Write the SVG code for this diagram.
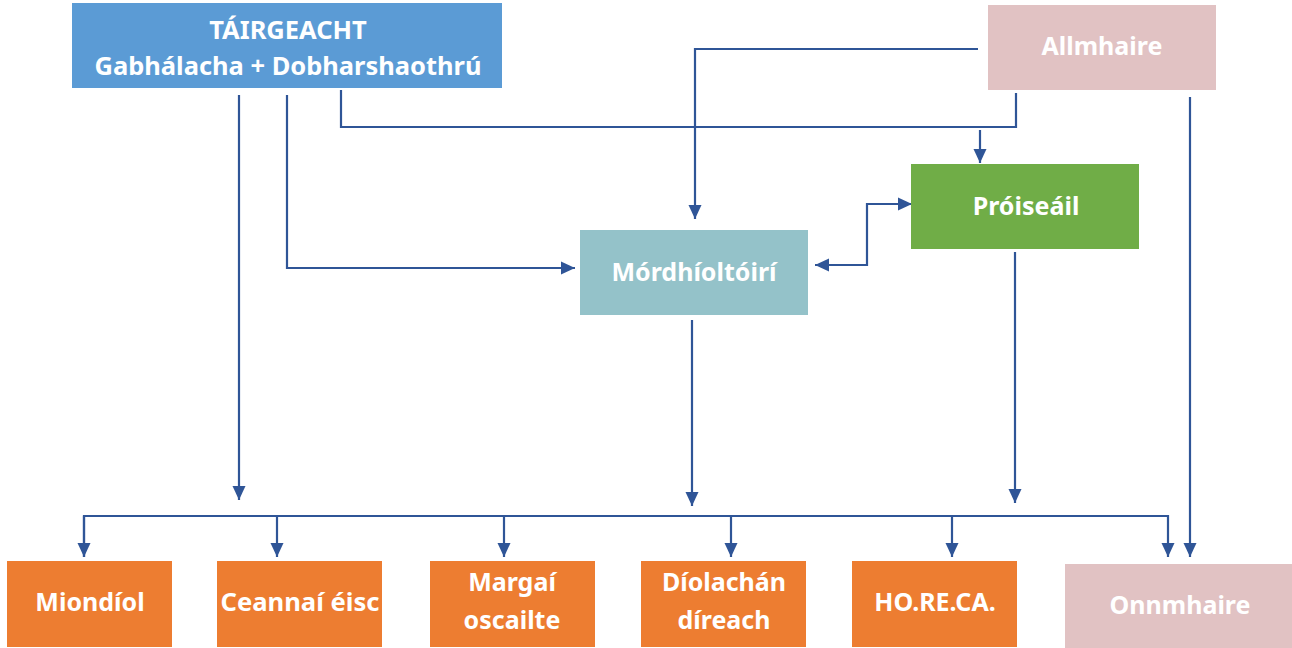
<svg xmlns="http://www.w3.org/2000/svg" width="1292" height="648" viewBox="0 0 1292 648">
<style>
.t{font-family:"Noto Sans","Open Sans","DejaVu Sans",sans-serif;font-weight:bold;fill:#fff;text-anchor:middle}
.c{fill:none;stroke:#2f5597;stroke-width:2.2}
.or{fill:#ed7d31}
.pk{fill:#e1c2c3}
</style>
<defs>
<marker id="a" markerUnits="userSpaceOnUse" markerWidth="16" markerHeight="16" viewBox="0 0 16 16" refX="14" refY="8" orient="auto-start-reverse">
<path d="M0,1.5 L14,8 L0,14.5 Z" fill="#2f5597"/>
</marker>
</defs>
<rect width="1292" height="648" fill="#fff"/>
<g id="connectors">
<path class="c" d="M239,95 V500" marker-end="url(#a)"/>
<path class="c" d="M287,95 V268 H575" marker-end="url(#a)"/>
<path class="c" d="M341,90 V127 H1016 V93"/>
<path class="c" d="M980,130 V163" marker-end="url(#a)"/>
<path class="c" d="M978,49 H695 V219" marker-end="url(#a)"/>
<path class="c" d="M815,265 H867 V204 H912" marker-start="url(#a)" marker-end="url(#a)"/>
<path class="c" d="M692,320 V506" marker-end="url(#a)"/>
<path class="c" d="M1015,252 V503" marker-end="url(#a)"/>
<path class="c" d="M1190,97 V557" marker-end="url(#a)"/>
<path class="c" d="M84,557 V516 H1168 V557" marker-end="url(#a)"/>
<path class="c" d="M84,516 V557" marker-end="url(#a)"/>
<path class="c" d="M277,516 V557" marker-end="url(#a)"/>
<path class="c" d="M504,516 V557" marker-end="url(#a)"/>
<path class="c" d="M731,516 V557" marker-end="url(#a)"/>
<path class="c" d="M952,516 V557" marker-end="url(#a)"/>
</g>
<g id="tairgeacht">
<rect x="72" y="3" width="430" height="85" fill="#5b9bd5"/>
<text class="t" x="288" y="39" font-size="25.5">TÁIRGEACHT</text>
<text class="t" x="288" y="75" font-size="25.5" textLength="387" lengthAdjust="spacingAndGlyphs">Gabhálacha + Dobharshaothrú</text>
</g>
<g id="allmhaire">
<rect class="pk" x="988" y="5" width="228" height="85"/>
<text class="t" x="1102" y="55" font-size="25">Allmhaire</text>
</g>
<g id="proiseail">
<rect x="911" y="164" width="228" height="85" fill="#70ad47"/>
<text class="t" x="1026" y="215" font-size="25">Próiseáil</text>
</g>
<g id="mordhioltoiri">
<rect x="580" y="230" width="228" height="85" fill="#94c2c9"/>
<text class="t" x="694" y="281" font-size="25">Mórdhíoltóirí</text>
</g>
<g id="miondiol">
<rect class="or" x="7" y="561" width="165" height="86"/>
<text class="t" x="90" y="611" font-size="25">Miondíol</text>
</g>
<g id="ceannai">
<rect class="or" x="217" y="561" width="165" height="86"/>
<text class="t" x="300" y="611" font-size="25" textLength="159" lengthAdjust="spacingAndGlyphs">Ceannaí éisc</text>
</g>
<g id="margai">
<rect class="or" x="430" y="561" width="165" height="86"/>
<text class="t" x="512" y="591" font-size="25">Margaí</text>
<text class="t" x="512" y="629" font-size="25">oscailte</text>
</g>
<g id="diolachan">
<rect class="or" x="641" y="561" width="165" height="86"/>
<text class="t" x="724" y="591" font-size="25">Díolachán</text>
<text class="t" x="724" y="629" font-size="25">díreach</text>
</g>
<g id="horeca">
<rect class="or" x="852" y="561" width="165" height="86"/>
<text class="t" x="935" y="611" font-size="25">HO.RE.CA.</text>
</g>
<g id="onnmhaire">
<rect class="pk" x="1065" y="564" width="227" height="84"/>
<text class="t" x="1180" y="614" font-size="25">Onnmhaire</text>
</g>
</svg>
